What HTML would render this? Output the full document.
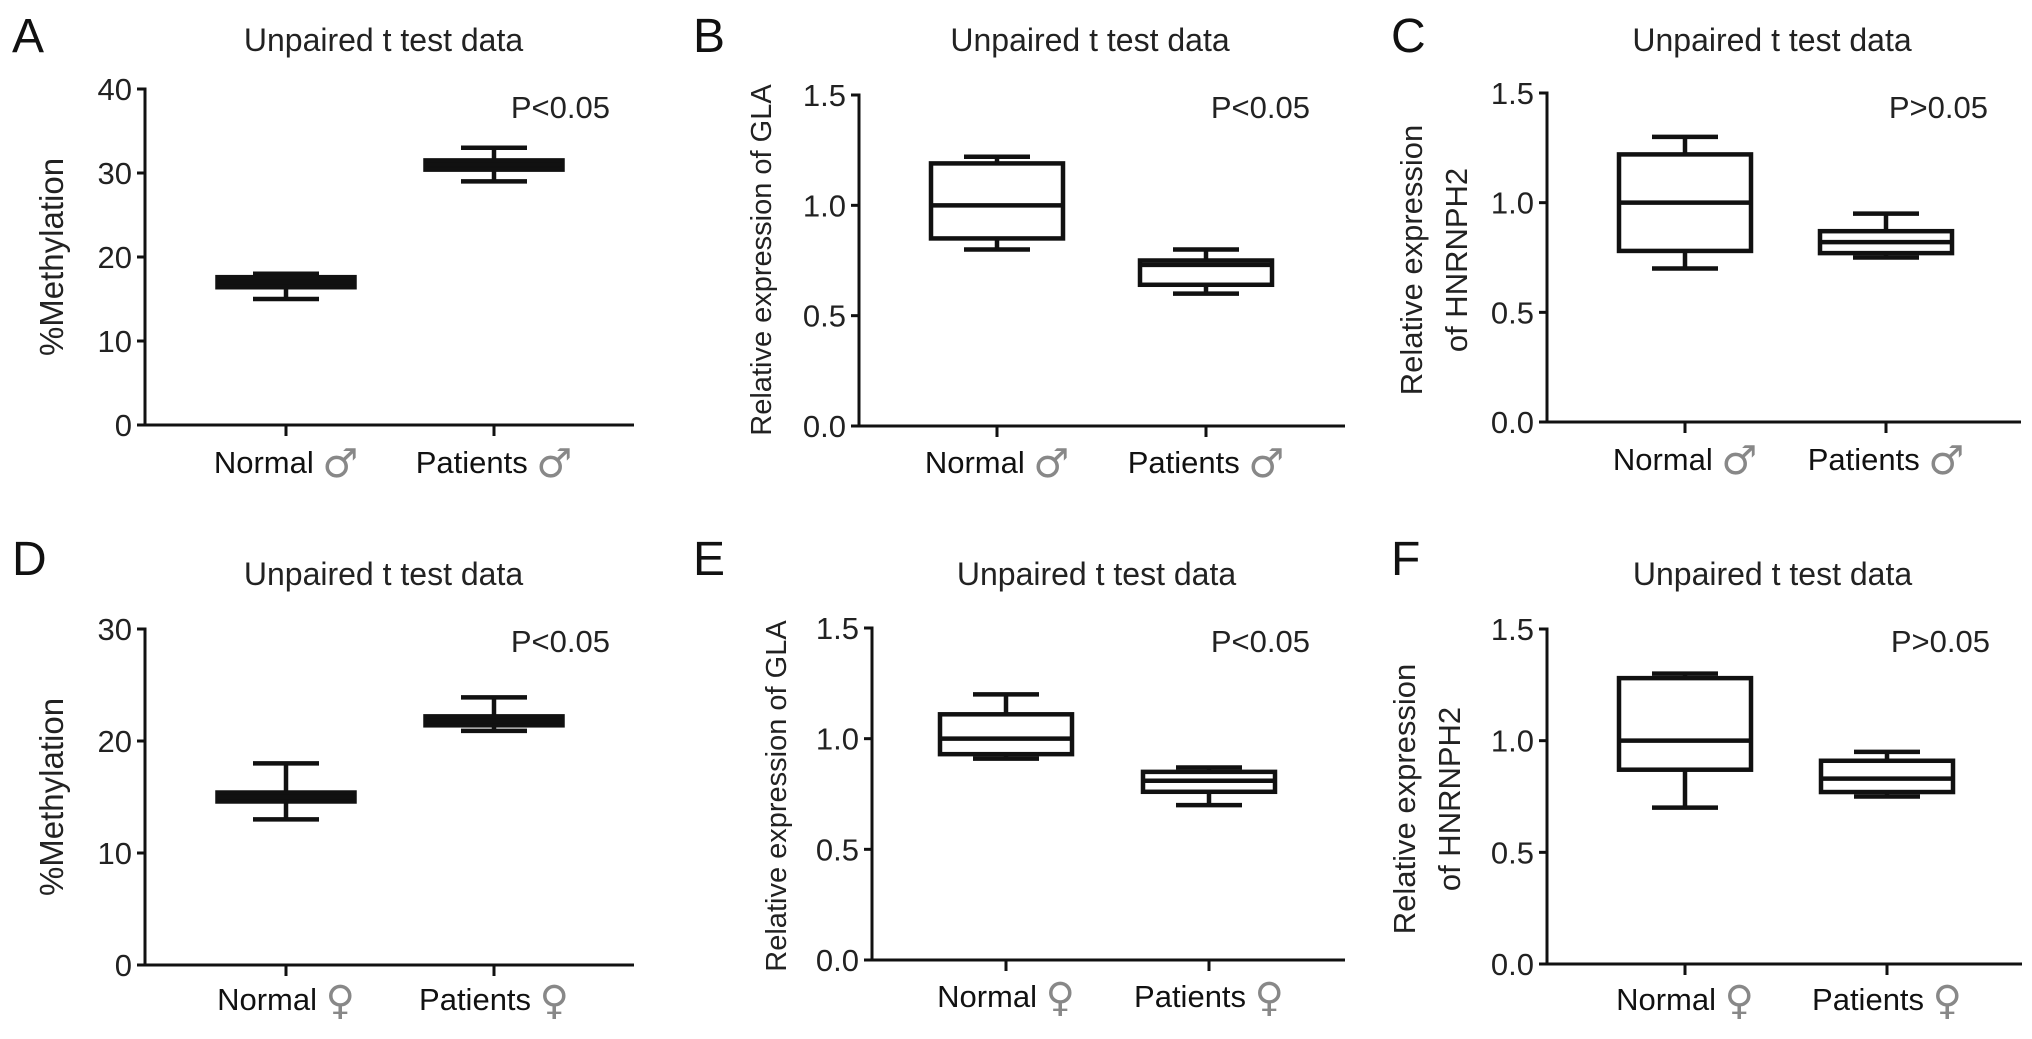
<!DOCTYPE html>
<html><head><meta charset="utf-8"><style>
html,body{margin:0;padding:0;background:#fff;}
svg{display:block;font-family:"Liberation Sans",Arial,sans-serif;}
</style></head><body>
<svg id="fig" width="2032" height="1039" viewBox="0 0 2032 1039" xmlns="http://www.w3.org/2000/svg"></svg>
<script>
// ---- data ----
const categories = ['Normal', 'Patients'];
const sexSymbolsTop = ['\u2642', '\u2642'];
const sexSymbolsBottom = ['\u2640', '\u2640'];
const pValues = ['P<0.05', 'P<0.05', 'P>0.05', 'P<0.05', 'P<0.05', 'P>0.05'];
// Panel A (%Methylation, male)
const aMin = [15, 29];   const aQ1 = [16.4, 30.4]; const aMed = [17, 31];   const aQ3 = [17.6, 31.5]; const aMax = [18, 33];
// Panel B (GLA, male)
const bMin = [0.80, 0.60]; const bQ1 = [0.85, 0.64]; const bMed = [1.00, 0.73]; const bQ3 = [1.19, 0.75]; const bMax = [1.22, 0.80];
// Panel C (HNRNPH2, male)
const cMin = [0.70, 0.75]; const cQ1 = [0.78, 0.77]; const cMed = [1.00, 0.82]; const cQ3 = [1.22, 0.87]; const cMax = [1.30, 0.95];
// Panel D (%Methylation, female)
const dMin = [13, 20.9]; const dQ1 = [14.6, 21.4]; const dMed = [15, 21.8]; const dQ3 = [15.4, 22.2]; const dMax = [18, 23.9];
// Panel E (GLA, female)
const eMin = [0.91, 0.70]; const eQ1 = [0.93, 0.76]; const eMed = [1.00, 0.81]; const eQ3 = [1.11, 0.85]; const eMax = [1.20, 0.87];
// Panel F (HNRNPH2, female)
const fMin = [0.70, 0.75]; const fQ1 = [0.87, 0.77]; const fMed = [1.00, 0.83]; const fQ3 = [1.28, 0.91]; const fMax = [1.30, 0.95];
const methTicksA = [0, 10, 20, 30, 40];
const methTicksD = [0, 10, 20, 30];
const relTicks = [0, 0.5, 1.0, 1.5];
const relTickLabels = ['0.0', '0.5', '1.0', '1.5'];

const NS = 'http://www.w3.org/2000/svg';
const svg = document.getElementById('fig');
function mk(tag, attrs, parent, text) {
  const e = document.createElementNS(NS, tag);
  for (const k in attrs) e.setAttribute(k, attrs[k]);
  if (text !== undefined) e.textContent = text;
  (parent || svg).appendChild(e);
  return e;
}

const panels = [
  {id:'a', letter:'A', lx:12, ly:52, ax:145, yTop:89, y0:425, xEnd:634, xs:[286,494], ymax:40, ticks:methTicksA, tl:methTicksA.map(String), tcy:40,
   ylab:['%Methylation'], ylf:33, ylx:[52], yly:257, sym:sexSymbolsTop, data:[aMin,aQ1,aMed,aQ3,aMax], solid:true, p:pValues[0], pcx:610, pcy:107, xly:473},
  {id:'b', letter:'B', lx:693, ly:52, ax:859, yTop:95, y0:426, xEnd:1345, xs:[997,1206], ymax:1.5, ticks:relTicks, tl:relTickLabels, tcy:40,
   ylab:['Relative expression of GLA'], ylf:29, ylx:[760], yly:260, sym:sexSymbolsTop, data:[bMin,bQ1,bMed,bQ3,bMax], solid:false, p:pValues[1], pcx:1310, pcy:107, xly:473},
  {id:'c', letter:'C', lx:1391, ly:52, ax:1547, yTop:93, y0:422, xEnd:2021, xs:[1685,1886], ymax:1.5, ticks:relTicks, tl:relTickLabels, tcy:40,
   ylab:['Relative expression','of HNRNPH2'], ylf:31, ylx:[1411,1456], yly:260, sym:sexSymbolsTop, data:[cMin,cQ1,cMed,cQ3,cMax], solid:false, p:pValues[2], pcx:1988, pcy:107, xly:470},
  {id:'d', letter:'D', lx:12, ly:575, ax:145, yTop:629, y0:965, xEnd:634, xs:[286,494], ymax:30, ticks:methTicksD, tl:methTicksD.map(String), tcy:574,
   ylab:['%Methylation'], ylf:33, ylx:[52], yly:797, sym:sexSymbolsBottom, data:[dMin,dQ1,dMed,dQ3,dMax], solid:true, p:pValues[3], pcx:610, pcy:641, xly:1010},
  {id:'e', letter:'E', lx:693, ly:575, ax:872, yTop:628, y0:960, xEnd:1345, xs:[1006,1209], ymax:1.5, ticks:relTicks, tl:relTickLabels, tcy:574,
   ylab:['Relative expression of GLA'], ylf:29, ylx:[775], yly:796, sym:sexSymbolsBottom, data:[eMin,eQ1,eMed,eQ3,eMax], solid:false, p:pValues[4], pcx:1310, pcy:641, xly:1007},
  {id:'f', letter:'F', lx:1391, ly:575, ax:1547, yTop:629, y0:964, xEnd:2022, xs:[1685,1887], ymax:1.5, ticks:relTicks, tl:relTickLabels, tcy:574,
   ylab:['Relative expression','of HNRNPH2'], ylf:31, ylx:[1404,1449], yly:799, sym:sexSymbolsBottom, data:[fMin,fQ1,fMed,fQ3,fMax], solid:false, p:pValues[5], pcx:1990, pcy:641, xly:1010}
];

panels.forEach(P => {
  const g = mk('g', {});
  
  
  const yS = v => P.y0 - (v / P.ymax) * (P.y0 - P.yTop);
  const cx0 = P.ax + (P.xEnd - P.ax) / 2;

  const L = mk('text', {x:P.lx, y:P.ly, 'font-size':48, fill:'#111'}, g, P.letter);
  
  
  const T = mk('text', {x:cx0 + (P.id==='a'||P.id==='d' ? -6 : -12), y:P.tcy + 11, 'font-size':32, 'text-anchor':'middle', fill:'#222'}, g, 'Unpaired t test data');
  
  

  const ya = mk('line', {x1:P.ax, y1:P.yTop - 1.5, x2:P.ax, y2:P.y0, stroke:'#111', 'stroke-width':3}, g);
  
  
  const xa = mk('line', {x1:P.ax - 8, y1:P.y0, x2:P.xEnd, y2:P.y0, stroke:'#111', 'stroke-width':3}, g);
  
  

  P.ticks.forEach((t, i) => {
    const y = yS(t);
    const tk = mk('line', {x1:P.ax - 8, y1:y, x2:P.ax, y2:y, stroke:'#111', 'stroke-width':3}, g);
    
    
    const tx = mk('text', {x:P.ax - 13, y:y + 11, 'font-size':31, 'text-anchor':'end', fill:'#222'}, g, P.tl[i]);
    
    
  });

  P.ylab.forEach((s, i) => {
    const yl = mk('text', {x:0, y:0, 'font-size':P.ylf, 'text-anchor':'middle', fill:'#222',
      transform:'translate(' + (P.ylx[i] + 11) + ',' + P.yly + ') rotate(-90)'}, g, s);
    
    
  });

  const pt = mk('text', {x:P.pcx, y:P.pcy + 11, 'font-size':31, 'text-anchor':'end', fill:'#222'}, g, P.p);
  
  

  categories.forEach((c, i) => {
    const x = P.xs[i];
    const xt = mk('line', {x1:x, y1:P.y0, x2:x, y2:P.y0 + 11, stroke:'#111', 'stroke-width':3}, g);
    
    
    const xl = mk('text', {x:x, y:P.xly, 'font-size':31, 'text-anchor':'middle', fill:'#111'}, g);
    
    
    mk('tspan', {}, xl, c + ' ');
    mk('tspan', {fill:'#888', 'font-size':40, 'font-family':'"DejaVu Sans", sans-serif', dy:4}, xl, P.sym[i]);

    const [mn, q1, md, q3, mx] = P.data.map(a => a[i]);
    const bw = P.solid ? 137 : 132, cw = 66;
    const bg = mk('g', {stroke:'#111', 'stroke-width':4.5, fill:'none'}, g);
    
    
    const w1 = mk('line', {x1:x, y1:yS(mx), x2:x, y2:yS(mn)}, bg);
    
    
    const cap1 = mk('line', {x1:x - cw/2, y1:yS(mx), x2:x + cw/2, y2:yS(mx)}, bg);
    
    
    const cap2 = mk('line', {x1:x - cw/2, y1:yS(mn), x2:x + cw/2, y2:yS(mn)}, bg);
    
    
    const rect = mk('rect', {x:x - bw/2, y:yS(q3), width:bw, height:Math.max(0.5, yS(q1) - yS(q3)), fill:P.solid ? '#111' : '#fff'}, bg);
    
    
    const med = mk('line', {x1:x - bw/2, y1:yS(md), x2:x + bw/2, y2:yS(md)}, bg);
    
    
  });
});
</script>
</body></html>
